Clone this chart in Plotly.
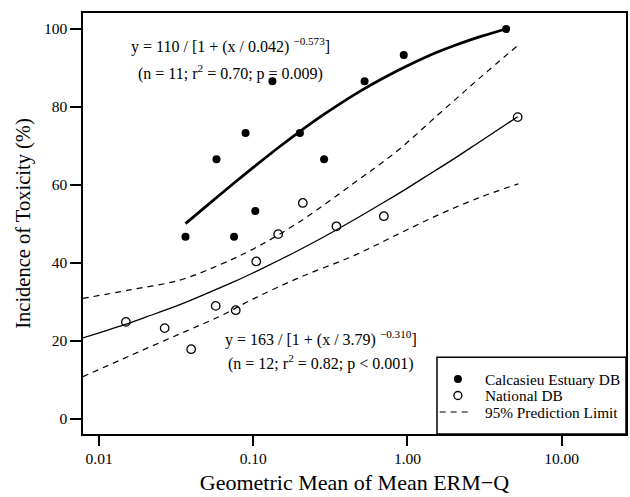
import plotly.graph_objects as go

# Calcasieu Estuary database: geometric mean of mean ERM-Q vs. incidence of toxicity (%)
calc_x = [0.0363, 0.075, 0.0577, 0.0891, 0.103, 0.133, 0.2005, 0.288, 0.527, 0.946, 4.37]
calc_y = [46.7, 46.7, 66.6, 73.3, 53.3, 86.6, 73.3, 66.6, 86.6, 93.3, 100.0]

# National database
nat_x = [0.0149, 0.0266, 0.0395, 0.057, 0.0769, 0.1045, 0.145, 0.2094, 0.346, 0.703, 5.19]
nat_y = [24.9, 23.3, 17.9, 29.0, 27.9, 40.4, 47.4, 55.4, 49.4, 52.0, 77.4]

# Fitted dose-response curve, Calcasieu Estuary
calc_fit_x = [0.0363, 0.05, 0.075, 0.1, 0.15, 0.2, 0.3, 0.5, 0.75, 1.0, 1.5, 2.0, 3.0, 4.37]
calc_fit_y = [50.1, 54.7, 60.5, 64.5, 70.0, 73.7, 78.6, 84.2, 88.1, 90.6, 93.8, 95.7, 98.1, 100.0]

# Fitted dose-response curve, National
nat_fit_x = [0.007, 0.01, 0.015, 0.02, 0.03, 0.05, 0.075, 0.1, 0.15, 0.2, 0.3, 0.5, 0.75,
             1.0, 1.5, 2.0, 3.0, 5.19]
nat_fit_y = [20.2, 22.1, 24.3, 26.1, 28.6, 32.2, 35.2, 37.5, 40.9, 43.4, 47.1, 52.1, 56.2,
             59.2, 63.6, 66.7, 71.3, 77.5]

# 95% prediction limits around the National curve
pl_x = [0.0078, 0.0158, 0.0332, 0.0603, 0.1, 0.2, 0.45, 0.85, 1.6, 2.9, 5.24]
pl_upper = [30.9, 33.1, 35.6, 39.5, 43.6, 50.6, 60.5, 68.6, 78.2, 87.2, 95.9]
pl_lower = [10.8, 16.2, 21.8, 26.3, 30.8, 36.3, 41.9, 47.2, 52.4, 56.7, 60.3]

x_tick_vals = [0.01, 0.1, 1, 10]
x_tick_text = ["0.01", "0.10", "1.00", "10.00"]
y_tick_vals = [0, 20, 40, 60, 80, 100]

legend_labels = ["Calcasieu Estuary DB", "National DB", "95% Prediction Limit"]

FONT = "Liberation Serif"
DASH = "6px,5px"

# plot area in pixels (left, right, top, bottom) used to place the legend box
W, H = 630, 497
M_L, M_R, M_T, M_B = 83, 2, 13, 63
AREA_W = W - M_L - M_R
AREA_H = H - M_T - M_B


def px_x(p):
    return (p - M_L) / AREA_W


def px_y(p):
    return (H - M_B - p) / AREA_H


fig = go.Figure()

fig.add_trace(go.Scatter(x=calc_fit_x, y=calc_fit_y, mode="lines", name="Calcasieu fit",
                         line=dict(color="black", width=2.8, shape="spline"), hoverinfo="skip"))
fig.add_trace(go.Scatter(x=nat_fit_x, y=nat_fit_y, mode="lines", name="National fit",
                         line=dict(color="black", width=1.3, shape="spline"), hoverinfo="skip"))

fig.add_trace(go.Scatter(x=calc_x, y=calc_y, mode="markers", name=legend_labels[0],
                         marker=dict(symbol="circle", size=8, color="black")))
fig.add_trace(go.Scatter(x=nat_x, y=nat_y, mode="markers", name=legend_labels[1],
                         marker=dict(symbol="circle-open", size=8.5, color="black", line=dict(width=1.3))))
fig.add_trace(go.Scatter(x=pl_x, y=pl_upper, mode="lines", name=legend_labels[2],
                         line=dict(color="black", width=1.2, dash=DASH, shape="spline")))
fig.add_trace(go.Scatter(x=pl_x, y=pl_lower, mode="lines", name=legend_labels[2] + " (lower)",
                         line=dict(color="black", width=1.2, dash=DASH, shape="spline")))

eq_font = dict(family=FONT, size=16, color="black")
fig.add_annotation(x=-1.149, y=95.8, xref="x", yref="y", showarrow=False, font=eq_font,
                   text="y = 110 / [1 + (x / 0.042) <sup>−0.573</sup>]")
fig.add_annotation(x=-1.149, y=88.8, xref="x", yref="y", showarrow=False, font=eq_font,
                   text="(n = 11; r<sup>2</sup> = 0.70; p = 0.009)")
fig.add_annotation(x=-0.560, y=20.6, xref="x", yref="y", showarrow=False, font=eq_font,
                   text="y = 163 / [1 + (x / 3.79) <sup>−0.310</sup>]")
fig.add_annotation(x=-0.560, y=14.4, xref="x", yref="y", showarrow=False, font=eq_font,
                   text="(n = 12; r<sup>2</sup> = 0.82; p &lt; 0.001)")

# legend box in the lower-right corner of the plot area
fig.add_shape(type="rect", xref="paper", yref="paper", x0=px_x(438.3), x1=1.0, y0=0.0, y1=px_y(357.3),
              line=dict(color="black", width=1.5), fillcolor="white", layer="above")
row_y = [379.0, 395.5, 412.0]
sym_x = 459.3
fig.add_shape(type="circle", xref="paper", yref="paper", xsizemode="pixel", ysizemode="pixel",
              xanchor=px_x(sym_x), yanchor=px_y(row_y[0]), x0=-4, x1=4, y0=-4, y1=4,
              fillcolor="black", line=dict(color="black", width=0))
fig.add_shape(type="circle", xref="paper", yref="paper", xsizemode="pixel", ysizemode="pixel",
              xanchor=px_x(sym_x), yanchor=px_y(row_y[1]), x0=-4, x1=4, y0=-4, y1=4,
              fillcolor="white", line=dict(color="black", width=1.3))
fig.add_shape(type="line", xref="paper", yref="paper", x0=px_x(441), x1=px_x(474), y0=px_y(row_y[2]),
              y1=px_y(row_y[2]), line=dict(color="black", width=1.2, dash=DASH))
for label, ry in zip(legend_labels, row_y):
    fig.add_annotation(x=px_x(485), y=px_y(ry), xref="paper", yref="paper", xanchor="left", yanchor="middle",
                       showarrow=False, text=label, borderpad=0,
                       font=dict(family=FONT, size=15.3, color="black"))

fig.update_xaxes(type="log", range=[-2.105, 1.418], tickvals=x_tick_vals, ticktext=x_tick_text,
                 showline=True, mirror=True, linecolor="black", linewidth=1.5,
                 ticks="outside", ticklen=10, tickwidth=1.5, tickcolor="black",
                 showgrid=False, zeroline=False,
                 tickfont=dict(family=FONT, size=15.5, color="black"),
                 title=dict(text="Geometric Mean of Mean ERM−Q", font=dict(family=FONT, size=22, color="black"),
                            standoff=8))
fig.update_yaxes(range=[-3.85, 104.1], tickvals=y_tick_vals,
                 showline=True, mirror=True, linecolor="black", linewidth=1.5,
                 ticks="outside", ticklen=11, tickwidth=1.5, tickcolor="black",
                 showgrid=False, zeroline=False,
                 tickfont=dict(family=FONT, size=15.5, color="black"),
                 title=dict(text="Incidence of Toxicity (%)", font=dict(family=FONT, size=20.5, color="black"),
                            standoff=8))

fig.update_layout(
    width=W, height=H,
    margin=dict(l=M_L, r=M_R, t=M_T, b=M_B),
    paper_bgcolor="white", plot_bgcolor="white",
    font=dict(family=FONT, color="black"),
    showlegend=False,
)

fig.write_html("out.html")
